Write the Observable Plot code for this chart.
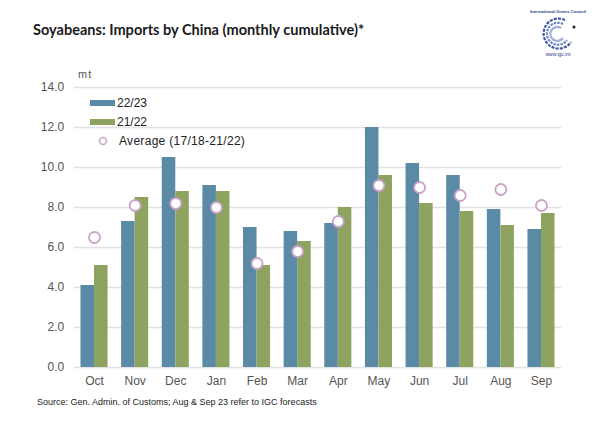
<!DOCTYPE html>
<html>
<head>
<meta charset="utf-8">
<script src="https://cdn.jsdelivr.net/npm/d3@7"></script>
<script src="https://cdn.jsdelivr.net/npm/@observablehq/plot@0.6"></script>
<style>
  html, body { margin: 0; padding: 0; background: #fff; }
  #wrap { position: relative; width: 600px; height: 421px; overflow: hidden; font-family: "Liberation Sans", Arial, sans-serif; }
  #title { position: absolute; left: 33px; top: 21px; font-family: Lato, "Open Sans", sans-serif; font-weight: bold; font-size: 14.55px; color: #1a1a1a; white-space: nowrap; }
  #unit { position: absolute; left: 78px; top: 68px; font-size: 11px; color: #555; letter-spacing: 1px; }
  #source { position: absolute; left: 37px; top: 397px; font-size: 9px; color: #222; white-space: nowrap; }
  #logo { position: absolute; left: 525px; top: 4px; }
  #legend { position: absolute; left: 90px; top: 96px; font-size: 12px; color: #222; }
  #legend .row { position: absolute; white-space: nowrap; height: 14px; line-height: 14px; }
  #legend .sw { position: absolute; left: 0; top: 4px; width: 25px; height: 6px; }
  #chart { position: absolute; left: 0; top: 0; }
</style>
</head>
<body>
<div id="wrap">
  <div id="chart"></div>
  <div id="title">Soyabeans: Imports by China (monthly cumulative)*</div>
  <div id="unit">mt</div>
  <div id="legend"></div>
  <div id="source">Source: Gen. Admin. of Customs; Aug &amp; Sep 23 refer to IGC forecasts</div>
  <svg id="logo" width="66" height="54" viewBox="0 0 66 54">
    <text x="33" y="9" text-anchor="middle" font-size="4.2" font-weight="bold" fill="#2b3f8f" font-family="Liberation Sans, Arial">International Grains Council</text>
    <g fill="none" stroke="#3d57a6" stroke-width="2.2">
      <path d="M40 16 A15 15 0 1 0 46 38" stroke-dasharray="3 1.2"/>
      <path d="M38 20 A11 11 0 1 0 42 36" stroke="#6f86c6" stroke-dasharray="2.5 1"/>
      <path d="M36 24 A7 7 0 1 0 38 34" stroke="#9fb0dd"/>
    </g>
    <circle cx="49" cy="23" r="1.5" fill="#222"/>
    <text x="33" y="52" text-anchor="middle" font-size="5" fill="#2b3f8f" font-family="Liberation Sans, Arial">www.igc.int</text>
  </svg>
</div>
<script>
// Soyabean imports by China, million tonnes per month (Oct–Sep marketing year)
const months = ["Oct", "Nov", "Dec", "Jan", "Feb", "Mar", "Apr", "May", "Jun", "Jul", "Aug", "Sep"];
const season2223 = [4.1, 7.3, 10.5, 9.1, 7.0, 6.8, 7.2, 12.0, 10.2, 9.6, 7.9, 6.9];
const season2122 = [5.1, 8.5, 8.8, 8.8, 5.1, 6.3, 8.0, 9.6, 8.2, 7.8, 7.1, 7.7];
const average = [6.5, 8.1, 8.2, 8.0, 5.2, 5.8, 7.3, 9.1, 9.0, 8.6, 8.9, 8.1];
const yTicks = [0, 2, 4, 6, 8, 10, 12, 14];

const seriesNames = ["22/23", "21/22", "Average (17/18-21/22)"];
const colors = { "22/23": "#5b8aa6", "21/22": "#8ea35f", avg: "#c9a3c6" };

// Each month sits at integer position i; the two seasons sit side by side around it
const half = 0.333;
const rows2223 = months.map((m, i) => ({ i, month: m, value: season2223[i] }));
const rows2122 = months.map((m, i) => ({ i, month: m, value: season2122[i] }));
const rowsAvg = months.map((m, i) => ({ i, month: m, value: average[i] }));

const chart = Plot.plot({
  width: 600,
  height: 421,
  marginTop: 87,
  marginBottom: 54,
  marginLeft: 73.7,
  marginRight: 38.7,
  style: { fontFamily: "Liberation Sans, Arial, sans-serif", fontSize: "12px", background: "transparent" },
  x: { domain: [-0.5, months.length - 0.5], axis: null },
  y: { domain: [0, 14], axis: null },
  marks: [
    Plot.ruleY(yTicks, { stroke: "#e2e2e2", strokeWidth: 1.6 }),
    Plot.rectY(rows2223, { x1: d => d.i - half, x2: d => d.i, y1: 0, y2: "value", fill: colors["22/23"] }),
    Plot.rectY(rows2122, { x1: d => d.i, x2: d => d.i + half, y1: 0, y2: "value", fill: colors["21/22"] }),
    Plot.dot(rowsAvg, { x: "i", y: "value", r: 5.5, fill: "white", stroke: colors.avg, strokeWidth: 1.8 }),
    Plot.axisY(yTicks, { tickSize: 0, tickPadding: 10, tickFormat: d => d.toFixed(1), fill: "#555", label: null, fontSize: 12 }),
    Plot.axisX(d3.range(months.length), { tickSize: 0, tickPadding: 9, tickFormat: i => months[i], fill: "#555", label: null, fontSize: 12 })
  ]
});
document.getElementById("chart").appendChild(chart);

// Legend
const legend = document.getElementById("legend");
const legendRows = [
  { name: seriesNames[0], kind: "bar", color: colors["22/23"], top: 0 },
  { name: seriesNames[1], kind: "bar", color: colors["21/22"], top: 19 },
  { name: seriesNames[2], kind: "dot", color: colors.avg, top: 38 }
];
for (const r of legendRows) {
  const row = document.createElement("div");
  row.className = "row";
  row.style.top = r.top + "px";
  if (r.kind === "bar") {
    row.innerHTML = `<span class="sw" style="background:${r.color}"></span><span style="position:absolute;left:27px">${r.name}</span>`;
  } else {
    row.innerHTML = `<svg style="position:absolute;left:8px;top:2px" width="10" height="10"><circle cx="5" cy="5" r="3.5" fill="white" stroke="${r.color}" stroke-width="1.4"/></svg><span style="position:absolute;left:29px;letter-spacing:0.3px">${r.name}</span>`;
  }
  legend.appendChild(row);
}
</script>
</body>
</html>
